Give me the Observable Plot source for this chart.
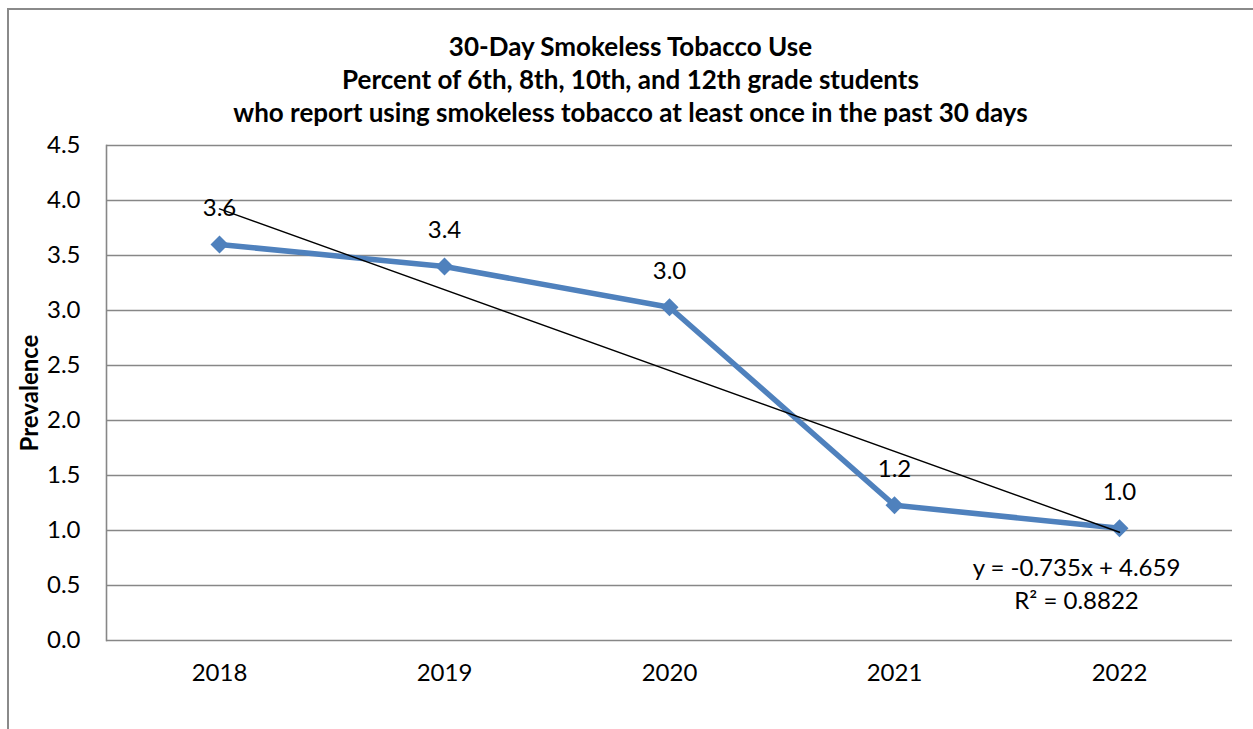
<!DOCTYPE html>
<html>
<head>
<meta charset="utf-8">
<script src="https://cdn.jsdelivr.net/npm/d3@7"></script>
<script src="https://cdn.jsdelivr.net/npm/@observablehq/plot@0.6"></script>
<style>
  html, body { margin: 0; padding: 0; background: #fff; }
  #wrap { position: relative; width: 1253px; height: 729px; overflow: hidden; font-family: Lato, "Open Sans", sans-serif; }
  #frame { position: absolute; left: 7px; top: 8px; width: 1270px; height: 740px; border: 2px solid #8a8a8a; box-sizing: border-box; pointer-events: none; }
  #title { height: 130px; box-sizing: border-box; padding-top: 30px; padding-left: 8px; text-align: center; font-weight: bold; font-size: 26px; line-height: 33px; color: #000; white-space: nowrap; }
  #chart svg { display: block; }
</style>
</head>
<body>
<div id="wrap">
  <div id="frame"></div>
  <div id="title">
    <div>30-Day Smokeless Tobacco Use</div>
    <div>Percent of 6th, 8th, 10th, and 12th grade students</div>
    <div>who report using smokeless tobacco at least once in the past 30 days</div>
  </div>
  <div id="chart"></div>
</div>
<script>
const years = ["2018", "2019", "2020", "2021", "2022"];
const prevalence = [3.6, 3.4, 3.03, 1.23, 1.02];
const valueLabels = ["3.6", "3.4", "3.0", "1.2", "1.0"];
const yTicks = [0, 0.5, 1, 1.5, 2, 2.5, 3, 3.5, 4, 4.5];
const trendYears = ["2018", "2022"];
const trendValues = [3.924, 0.984];
const equationText = "y = -0.735x + 4.659\nR² = 0.8822";
const yAxisTitle = "Prevalence";

const data = years.map((year, i) => ({year, value: prevalence[i], label: valueLabels[i]}));
const trend = trendYears.map((year, i) => ({year, value: trendValues[i]}));
const eq = [{year: years[years.length - 1], value: prevalence[prevalence.length - 1], text: equationText}];

const chart = Plot.plot({
  width: 1253,
  height: 599,
  marginTop: 15,
  marginBottom: 89,
  marginLeft: 106,
  marginRight: 21,
  style: {fontFamily: "Lato, 'Open Sans', sans-serif", fontSize: "24px", color: "#000", background: "transparent"},
  x: {type: "point", domain: years, padding: 0.5, label: null},
  y: {domain: [0, 4.5], label: null},
  marks: [
    Plot.ruleY(yTicks, {stroke: "#878787", strokeWidth: 1.6}),
    Plot.frame({anchor: "left", stroke: "#878787", strokeWidth: 1.6}),
    Plot.axisY({ticks: yTicks, tickSize: 0, tickPadding: 26, tickFormat: d3.format(".1f"), fontSize: 24, label: null}),
    Plot.axisX({tickSize: 0, tickPadding: 23, fontSize: 24, label: null}),
    Plot.text([yAxisTitle], {text: d => d, frameAnchor: "left", rotate: -90, dx: -76, textAnchor: "middle", fontWeight: "bold", fontSize: 24}),
    Plot.line(data, {x: "year", y: "value", stroke: "#4F81BD", strokeWidth: 5.5}),
    Plot.dot(data, {x: "year", y: "value", symbol: "diamond2", r: 8.1, fill: "#4F81BD", stroke: "none"}),
    Plot.line(trend, {x: "year", y: "value", stroke: "#000", strokeWidth: 1.4}),
    Plot.text(data, {x: "year", y: "value", text: "label", dy: -36, fontSize: 24, fill: "#000"}),
    Plot.text(eq, {x: "year", y: "value", text: "text", dx: -43, dy: 54, lineHeight: 1.375, fontSize: 24, fill: "#000"})
  ]
});
document.getElementById("chart").appendChild(chart);
</script>
</body>
</html>
